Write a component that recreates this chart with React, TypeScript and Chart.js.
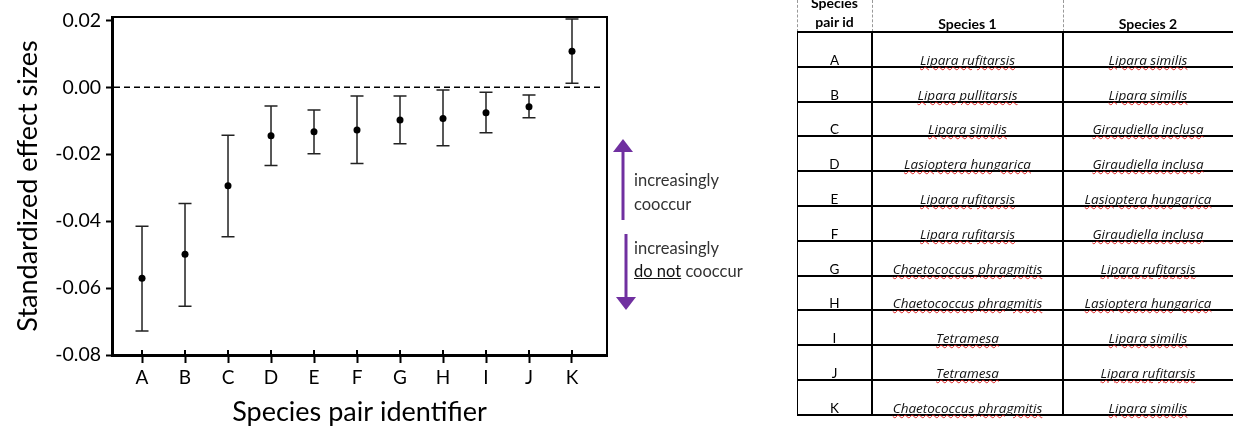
import React, { useEffect, useRef } from "react";
import { Chart, registerables } from "chart.js";

Chart.register(...registerables);

const categories = ["A", "B", "C", "D", "E", "F", "G", "H", "I", "J", "K"];
const effectSizes = [-0.0571, -0.0499, -0.0294, -0.0145, -0.0133, -0.0128, -0.0098, -0.0093, -0.0076, -0.0058, 0.0108];
const upperBounds = [-0.0415, -0.0347, -0.0143, -0.0056, -0.0068, -0.0026, -0.0026, -0.0008, -0.0015, -0.0023, 0.0204];
const lowerBounds = [-0.0728, -0.0654, -0.0447, -0.0234, -0.0199, -0.0228, -0.0169, -0.0175, -0.0136, -0.0091, 0.0012];
const yTickValues = [-0.08, -0.06, -0.04, -0.02, 0, 0.02];
const yTickLabels = ["-0.08", "-0.06", "-0.04", "-0.02", "0.00", "0.02"];

const species1 = [
  "Lipara rufitarsis",
  "Lipara pullitarsis",
  "Lipara similis",
  "Lasioptera hungarica",
  "Lipara rufitarsis",
  "Lipara rufitarsis",
  "Chaetococcus phragmitis",
  "Chaetococcus phragmitis",
  "Tetramesa",
  "Tetramesa",
  "Chaetococcus phragmitis",
];
const species2 = [
  "Lipara similis",
  "Lipara similis",
  "Giraudiella inclusa",
  "Giraudiella inclusa",
  "Lasioptera hungarica",
  "Giraudiella inclusa",
  "Lipara rufitarsis",
  "Lasioptera hungarica",
  "Lipara similis",
  "Lipara rufitarsis",
  "Lipara similis",
];

const FONT = "Lato, 'Open Sans', sans-serif";
const ITALIC_FONT = "'Open Sans', Lato, sans-serif";

const errorBarPlugin = {
  id: "errorBars",
  beforeDatasetsDraw(chart: any) {
    const { ctx, chartArea, scales } = chart;
    const x = scales.x;
    const y = scales.y;
    ctx.save();
    const y0 = y.getPixelForValue(0);
    ctx.strokeStyle = "#000";
    ctx.lineWidth = 1.5;
    ctx.setLineDash([6, 4]);
    ctx.beginPath();
    ctx.moveTo(chartArea.left + 2, y0);
    ctx.lineTo(chartArea.right - 4, y0);
    ctx.stroke();
    ctx.setLineDash([]);
    ctx.strokeStyle = "#222";
    ctx.lineWidth = 1.5;
    const cap = 6.5;
    categories.forEach((_, i) => {
      const px = x.getPixelForValue(i);
      const yl = y.getPixelForValue(lowerBounds[i]);
      const yu = y.getPixelForValue(upperBounds[i]);
      ctx.beginPath();
      ctx.moveTo(px, yl);
      ctx.lineTo(px, yu);
      ctx.moveTo(px - cap, yl);
      ctx.lineTo(px + cap, yl);
      ctx.moveTo(px - cap, yu);
      ctx.lineTo(px + cap, yu);
      ctx.stroke();
    });
    ctx.restore();
  },
  afterDraw(chart: any) {
    const { ctx, chartArea, scales } = chart;
    const x = scales.x;
    ctx.save();
    ctx.strokeStyle = "#000";
    ctx.lineWidth = 2;
    ctx.beginPath();
    ctx.moveTo(chartArea.left, chartArea.top);
    ctx.lineTo(chartArea.right, chartArea.top);
    ctx.lineTo(chartArea.right, chartArea.bottom);
    ctx.stroke();
    categories.forEach((_, i) => {
      const px = x.getPixelForValue(i);
      ctx.beginPath();
      ctx.moveTo(px, chartArea.bottom);
      ctx.lineTo(px, chartArea.bottom - 5);
      ctx.stroke();
    });
    ctx.restore();
  },
};

function EffectChart() {
  const ref = useRef<HTMLCanvasElement | null>(null);
  useEffect(() => {
    if (!ref.current) return;
    const chart = new Chart(ref.current, {
      type: "scatter",
      data: {
        datasets: [
          {
            data: categories.map((_, i) => ({ x: i, y: effectSizes[i] })),
            pointRadius: 3.5,
            pointBackgroundColor: "#000",
            pointBorderColor: "#000",
            pointBorderWidth: 0,
            showLine: false,
          },
        ],
      },
      options: {
        animation: false,
        responsive: false,
        events: [],
        layout: { padding: { top: 17, right: 183, left: 0, bottom: 0 } },
        plugins: { legend: { display: false }, tooltip: { enabled: false } },
        scales: {
          x: {
            type: "linear",
            min: -0.698,
            max: 10.814,
            afterBuildTicks: (s: any) => {
              s.ticks = categories.map((_, i) => ({ value: i }));
            },
            afterFit: (s: any) => {
              s.height = 74;
            },
            ticks: {
              callback: (_v: any, i: number) => categories[i],
              font: { family: FONT, size: 19 },
              color: "#000",
              padding: 3,
              autoSkip: false,
              maxRotation: 0,
            },
            grid: { drawOnChartArea: false, tickLength: 8, tickWidth: 2, tickColor: "#000" },
            border: { color: "#000", width: 3 },
            title: {
              display: true,
              text: "Species pair identifier",
              font: { family: FONT, size: 27 },
              color: "#000",
              padding: { top: 0, bottom: 1 },
            },
          },
          y: {
            type: "linear",
            min: -0.08,
            max: 0.021,
            afterBuildTicks: (s: any) => {
              s.ticks = yTickValues.map((v) => ({ value: v }));
            },
            afterFit: (s: any) => {
              s.width = 112;
            },
            ticks: {
              callback: (_v: any, i: number) => yTickLabels[i],
              font: { family: FONT, size: 19.5 },
              color: "#000",
              padding: 5,
            },
            grid: { drawOnChartArea: false, tickLength: 6, tickWidth: 2, tickColor: "#000" },
            border: { color: "#000", width: 3 },
            title: {
              display: true,
              text: "Standardized effect sizes",
              font: { family: FONT, size: 27 },
              color: "#000",
              padding: { top: 12, bottom: 0 },
            },
          },
        },
      },
      plugins: [errorBarPlugin],
    } as any);
    return () => chart.destroy();
  }, []);
  return (
    <canvas
      ref={ref}
      width={790}
      height={429}
      style={{ position: "absolute", left: 0, top: 0, width: 790, height: 429 }}
    />
  );
}

const TABLE_LEFT = 797;
const COL_W = [75, 191, 180];
const HEADER_BOTTOM = 32;
const ROW_H = 34.8;

function SpeciesTable() {
  const lines = [];
  for (let i = 0; i <= categories.length; i++) {
    lines.push(
      <div
        key={"h" + i}
        style={{
          position: "absolute",
          left: 0,
          top: HEADER_BOTTOM + i * ROW_H - 1,
          width: 440,
          height: 2,
          background: "#000",
        }}
      />
    );
  }
  const colX = [0, COL_W[0], COL_W[0] + COL_W[1]];
  const bodyBottom = HEADER_BOTTOM + categories.length * ROW_H;
  const italic: React.CSSProperties = {
    fontFamily: ITALIC_FONT,
    fontStyle: "italic",
    textDecorationLine: "underline",
    textDecorationStyle: "wavy",
    textDecorationColor: "#e02020",
    textDecorationThickness: "1px",
    textUnderlineOffset: "1px",
  };
  const header: React.CSSProperties = {
    position: "absolute",
    textAlign: "center",
    fontWeight: 700,
    fontSize: 14,
    lineHeight: "19px",
    color: "#000",
  };
  return (
    <div
      style={{
        position: "absolute",
        left: TABLE_LEFT,
        top: 0,
        width: 1233 - TABLE_LEFT,
        height: 429,
        overflow: "hidden",
        fontFamily: FONT,
        color: "#111",
      }}
    >
      {colX.map((cx, k) => (
        <div
          key={"dv" + k}
          style={{
            position: "absolute",
            left: cx,
            top: 0,
            height: HEADER_BOTTOM,
            borderLeft: "1px dashed #999",
          }}
        />
      ))}
      {colX.map((cx, k) => (
        <div
          key={"v" + k}
          style={{
            position: "absolute",
            left: cx - 1,
            top: HEADER_BOTTOM,
            width: 2,
            height: bodyBottom - HEADER_BOTTOM + 1,
            background: "#000",
          }}
        />
      ))}
      {lines}
      <div style={{ ...header, left: 0, top: -7, width: COL_W[0] }}>
        Species
        <br />
        pair id
      </div>
      <div style={{ ...header, left: colX[1], top: 14, width: COL_W[1] }}>Species 1</div>
      <div style={{ ...header, left: colX[2], top: 14, width: COL_W[2] - 10 }}>Species 2</div>
      {categories.map((c, i) => {
        const top = HEADER_BOTTOM + (i + 1) * ROW_H - 16;
        const base: React.CSSProperties = {
          position: "absolute",
          top,
          height: 18,
          lineHeight: "18px",
          textAlign: "center",
          whiteSpace: "nowrap",
        };
        return (
          <React.Fragment key={c}>
            <div style={{ ...base, left: 0, width: COL_W[0], fontSize: 13.5, color: "#000" }}>{c}</div>
            <div style={{ ...base, left: colX[1], width: COL_W[1], fontSize: 13.5 }}>
              <span style={italic}>{species1[i]}</span>
            </div>
            <div style={{ ...base, left: colX[2], width: COL_W[2] - 10, fontSize: 13.5 }}>
              <span style={italic}>{species2[i]}</span>
            </div>
          </React.Fragment>
        );
      })}
    </div>
  );
}

function Annotation() {
  const purple = "#7030A0";
  const text: React.CSSProperties = {
    position: "absolute",
    left: 634,
    fontFamily: FONT,
    fontSize: 16.5,
    color: "#333",
    whiteSpace: "nowrap",
  };
  return (
    <>
      <svg
        width={1233}
        height={429}
        style={{ position: "absolute", left: 0, top: 0, pointerEvents: "none" }}
      >
        <line x1={623} y1={220} x2={623} y2={150} stroke={purple} strokeWidth={3} />
        <polygon points="623,139 613,152 633,152" fill={purple} />
        <line x1={626} y1={234} x2={626} y2={299} stroke={purple} strokeWidth={3} />
        <polygon points="626,310 616,297 636,297" fill={purple} />
      </svg>
      <div style={{ ...text, top: 168, lineHeight: "24px" }}>
        increasingly
        <br />
        cooccur
      </div>
      <div style={{ ...text, top: 237, lineHeight: "23px" }}>
        increasingly
        <br />
        <span style={{ textDecoration: "underline", color: "#111" }}>do not</span> cooccur
      </div>
    </>
  );
}

export default function App() {
  return (
    <div
      style={{
        position: "absolute",
        left: 0,
        top: 0,
        width: 1233,
        height: 429,
        overflow: "hidden",
        background: "#fff",
      }}
    >
      <EffectChart />
      <Annotation />
      <SpeciesTable />
    </div>
  );
}
